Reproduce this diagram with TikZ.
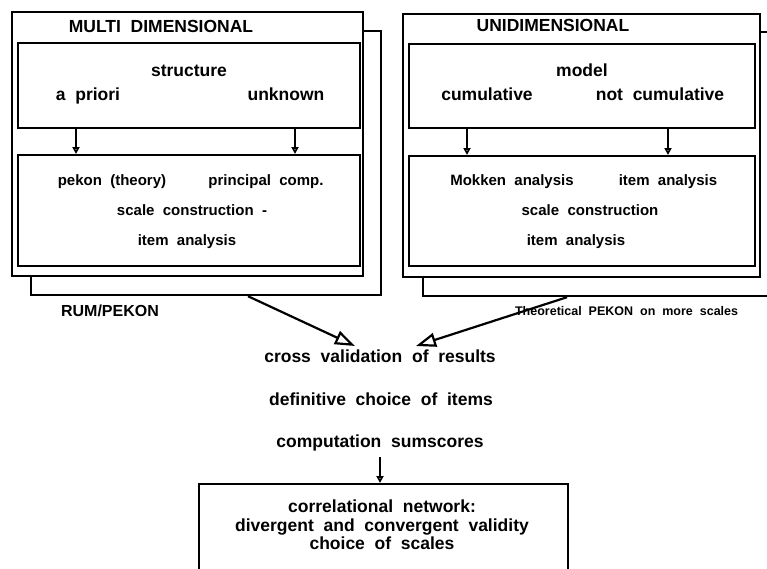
\documentclass[tikz,border=0pt]{standalone}
\usepackage{fontspec}
\setmainfont{Liberation Sans}[WordSpace=2.0]
\usetikzlibrary{arrows.meta}
\begin{document}
\begin{tikzpicture}[x=1pt,y=-1pt,line width=2.2pt,
  panel/.style={draw, fill=white, inner sep=0pt, anchor=north west},
  bigtxt/.style={font=\bfseries\fontsize{17.5}{19}\selectfont, inner sep=0pt, text height=12.6pt, text depth=3.5pt},
  smltxt/.style={font=\bfseries\fontsize{15}{17}\selectfont, inner sep=0pt, text height=10.8pt, text depth=3pt},
  tinytxt/.style={font=\bfseries\fontsize{12.5}{14}\selectfont, inner sep=0pt, text height=9pt, text depth=2.5pt},
  bigarrow/.style={-{Triangle[open,length=20pt,width=14pt]}},
  smallarrow/.style={-{Triangle[open,length=7pt,width=7pt]}}
]
\useasboundingbox (0,0) rectangle (767,568);
\clip (0,0) rectangle (767,568);

% ---- multidimensional branch ----
\node[panel, minimum width=350pt, minimum height=264pt] (mback) at (30,30) {};
\node[panel, minimum width=351pt, minimum height=264pt] (mfront) at (11,11) {};
\node[panel, minimum width=342pt, minimum height=85pt] (mtop) at (17,42) {};
\node[panel, minimum width=342pt, minimum height=111pt] (mbot) at (17,154) {};

\node[bigtxt] (mtitle) at (161,28) {MULTI DIMENSIONAL};
\node[bigtxt] (mstruct) at (189,72) {structure};
\node[bigtxt] (mprior) at (88,96) {a priori};
\node[bigtxt] (munk) at (286,96) {unknown};
\node[smltxt] (mpekon) at (112,182) {pekon (theory)};
\node[smltxt] (mprinc) at (266,182) {principal comp.};
\node[smltxt] (mscale) at (192,212) {scale construction -};
\node[smltxt] (mitem) at (187,242) {item analysis};

\coordinate (ma) at (76,0);
\coordinate (mb) at (295,0);
\draw[smallarrow] (ma |- mtop.south) -- (ma |- mbot.north);
\draw[smallarrow] (mb |- mtop.south) -- (mb |- mbot.north);

% ---- unidimensional branch ----
\node[panel, minimum width=378pt, minimum height=264pt] (uback) at (422,31) {};
\node[panel, minimum width=357pt, minimum height=263pt] (ufront) at (402,13) {};
\node[panel, minimum width=346pt, minimum height=84pt] (utop) at (408,43) {};
\node[panel, minimum width=346pt, minimum height=110pt] (ubot) at (408,155) {};

\node[bigtxt] (utitle) at (553,27) {UNIDIMENSIONAL};
\node[bigtxt] (umodel) at (582,72) {model};
\node[bigtxt] (ucum) at (487,96) {cumulative};
\node[bigtxt] (unot) at (660,96) {not cumulative};
\node[smltxt] (umok) at (512,182) {Mokken analysis};
\node[smltxt] (uitem) at (668,182) {item analysis};
\node[smltxt] (uscale) at (590,212) {scale construction};
\node[smltxt] (uitem2) at (576,242) {item analysis};

\coordinate (ua) at (467,0);
\coordinate (ub) at (668,0);
\draw[smallarrow] (ua |- utop.south) -- (ua |- ubot.north);
\draw[smallarrow] (ub |- utop.south) -- (ub |- ubot.north);

% ---- merging step ----
\node[smltxt, font=\bfseries\fontsize{16}{18}\selectfont] (rum) at (110,313) {RUM/PEKON};
\node[tinytxt, anchor=west] (theo) at (514,312) {Theoretical PEKON on more scales};

\node[bigtxt] (cross) at (380,358) {cross validation of results};
\node[bigtxt] (defin) at (381,401) {definitive choice of items};
\node[bigtxt] (comp) at (380,443) {computation sumscores};

\coordinate (lx) at (248,0);
\coordinate (rx) at (567,0);
\coordinate (ltip) at (355,346);
\coordinate (rtip) at (416,346);
\draw[bigarrow] (lx |- mback.south) -- (ltip);
\draw[bigarrow] (rx |- uback.south) -- (rtip);

% ---- final box ----
\node[panel, minimum width=369pt, minimum height=134pt] (cbox) at (198,483) {};
\node[bigtxt, text height=, text depth=, align=center, font=\bfseries\fontsize{17.5}{18.5}\selectfont] (corr) at (382,525)
  {correlational network:\\divergent and convergent validity\\choice of scales};

\draw[smallarrow] ([yshift=-5pt]comp.south) -- (comp.south |- cbox.north);
\end{tikzpicture}
\end{document}
